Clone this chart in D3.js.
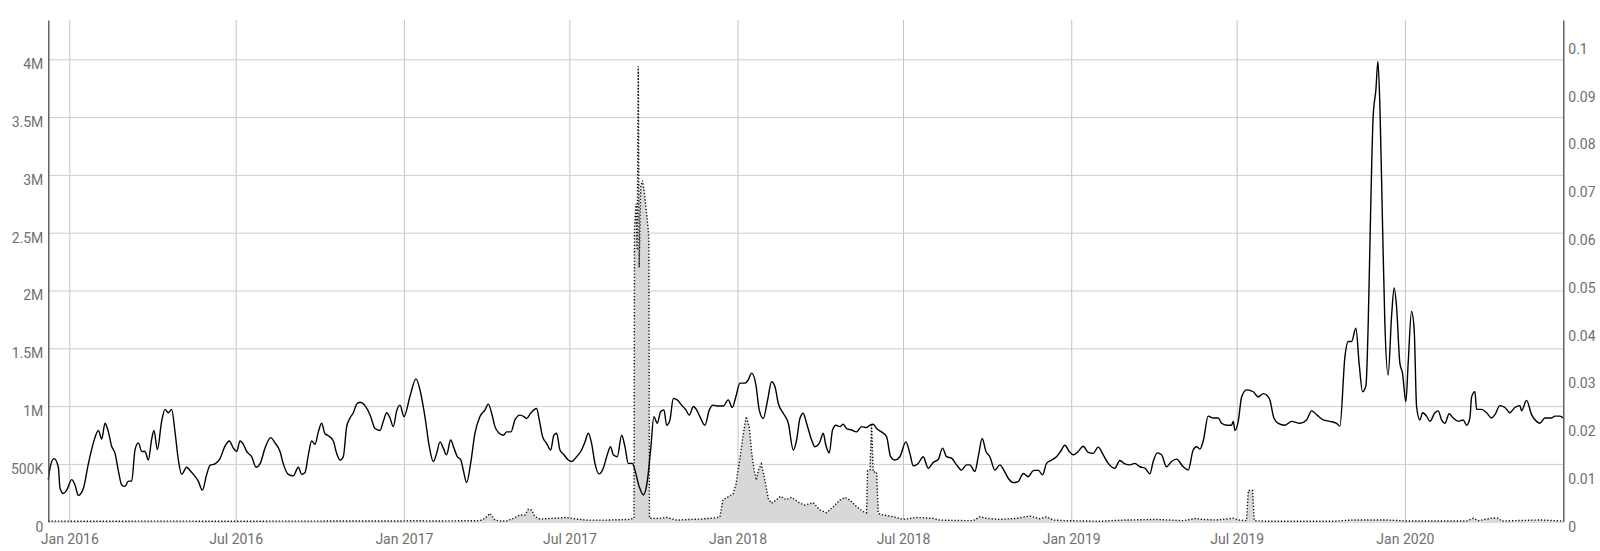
<!DOCTYPE html>
<html lang="en">
<head>
<meta charset="utf-8">
<title>Dual axis chart</title>
<script src="https://cdn.jsdelivr.net/npm/d3@7"></script>
<style>
  body { margin: 0; background: #fff; }
  svg text { font-family: Roboto, "Noto Sans", sans-serif; }
</style>
</head>
<body>
<svg id="chart" width="1600" height="551"></svg>
<script>
// days counted from 2016-01-01 (UTC)
var dayZero = Date.UTC(2016, 0, 1);
var xDomainDays = [-23, 1634.3];

var xTickDates = ["2016-01-01", "2016-07-01", "2017-01-01", "2017-07-01", "2018-01-01",
                  "2018-07-01", "2019-01-01", "2019-07-01", "2020-01-01"];
var xTickLabels = ["Jan 2016", "Jul 2016", "Jan 2017", "Jul 2017", "Jan 2018",
                   "Jul 2018", "Jan 2019", "Jul 2019", "Jan 2020"];

// left axis, millions
var leftTicks = [0, 0.5, 1, 1.5, 2, 2.5, 3, 3.5, 4];
var leftTickLabels = ["0", "500K", "1M", "1.5M", "2M", "2.5M", "3M", "3.5M", "4M"];
var leftMax = 4.34;

// right axis
var rightTicks = [0, 0.01, 0.02, 0.03, 0.04, 0.05, 0.06, 0.07, 0.08, 0.09, 0.1];
var rightTickLabels = ["0", "0.01", "0.02", "0.03", "0.04", "0.05", "0.06", "0.07", "0.08", "0.09", "0.1"];
var rightMax = 0.105;

// solid line (right axis)
var lineDays = [
  -23, -21, -16.7, -12, -10.2, -6.5, -2.9, 2.6, 6.2, 9.9, 15.4, 20.8, 26.3, 31.8, 35.4, 39.1, 42.7, 46.3, 50, 53.6,
  57.3, 60.9, 64.6, 68.2, 71.9, 75.5, 79.2, 82.8, 86.4, 90.1, 92.6, 96.3, 101, 104.7, 108.3, 112, 115.6, 119.3, 122.9, 128.4,
  132, 135.7, 141.1, 145.5, 150.3, 153.9, 159.4, 164.8, 170.3, 175, 179.4, 183.1, 186.7, 190.4, 194, 199.5, 204.2, 208.6, 214.1, 220.3,
  225, 230.5, 234.1, 239.6, 245, 250.5, 254.2, 257.8, 261.5, 265.1, 268.8, 272.4, 276, 279.7, 283.3, 288.8, 292.4, 296.1, 299.7, 303.4,
  307, 310.7, 314.3, 318, 323.4, 328.9, 334.4, 339.8, 343.5, 347.1, 350.8, 354.4, 358.1,
  361.7, 366.1, 372.6, 379.2, 383.6, 389, 393.8, 398.2, 401.8, 405.5, 409.1, 412.7, 417.1, 420.8, 424.4, 428.1, 431, 434.6, 439, 443.7,
  449.2, 454.7, 458.3, 462, 465.6, 470.3, 474.7, 478.4, 483.1, 487.5, 493, 497.3, 500.2, 504.6, 511.2, 514.1, 517.7, 522.1, 526.5, 530.1,
  533.1, 536.7, 541.1, 545.8, 549.5, 554.9, 560.4, 564.1, 567.7, 571.3, 575, 579.4, 584.1, 587.8, 592.1, 595, 599.4, 604.2, 607.8, 611.5,
  615.8, 618.7, 623.5, 627.9, 632.2, 635.9, 639.5, 643.2, 646.8, 650.5, 653.4, 657, 660.7, 665, 669.8, 674.5, 678.2, 682.6, 686.2, 689.8,
  695.3, 700.1, 704.4, 709.9, 715.4, 720.8, 725.2, 729.2, 733.6, 739.1, 742.7, 746.4, 751.1, 754.7, 759.1, 763.9, 768.2, 771.9, 775.5, 781,
  786.5, 792, 795.6,
  799.2, 802.8, 806.5, 812, 815.6, 821.1, 824.7, 827.6, 831.3, 834.9, 838.6, 842.9, 846.6, 850.2, 855.7, 861.2, 866.7, 872.1, 875.8, 879.4,
  883.1, 888.5, 894, 898.4, 903.1, 908.6, 915.1, 919.5, 923.2, 928.6, 934.1, 939.6, 945, 950.5, 955.3, 959.6, 965.1, 970.6, 976, 981.5,
  985.1, 990.6, 994.3, 998.6, 1002.7, 1007, 1012.5, 1018, 1022.3, 1027.1, 1032.5, 1038, 1043.5, 1049, 1054.4, 1059.9, 1064.6, 1069, 1074.5, 1079.9,
  1084.3, 1089.1, 1093.8, 1098.2, 1103.6, 1109.1, 1114.6, 1120, 1125.5, 1131, 1136.5, 1143.7, 1149.2, 1154.7, 1160.2, 1165.6, 1171.1, 1176.6, 1182, 1185.7,
  1190.1, 1194.8, 1200.3, 1205.7, 1211.2, 1218.5, 1224, 1229.4, 1233.1,
  1236.8, 1240.4, 1245.9, 1251.4, 1256.9, 1260.5, 1266, 1271.4, 1273.3, 1275.1, 1278.7, 1282.4, 1287.8, 1295.1, 1300.6, 1306.1, 1309.7, 1313.4, 1317.7, 1322.5,
  1329.8, 1337.1, 1346.2, 1353.5, 1358.9, 1364.4, 1371.7, 1379, 1386.3, 1389.9,
  1395.4, 1399, 1402.7, 1407.4, 1411, 1414.7, 1418.4, 1420.9, 1423.5, 1426.3, 1429.3, 1431.5, 1433.7, 1436.6, 1439.1, 1442.7, 1446.4, 1449.3, 1451.9, 1455.5,
  1458.4, 1462.1, 1464.6, 1468.3, 1471.2, 1473.8, 1477.4,
  1480.4, 1484.7, 1488.4, 1493.8, 1497.5, 1501.1, 1504.8, 1509.5, 1513.9, 1519.4, 1524.8, 1528.5, 1532.1, 1534, 1537.6, 1539.4, 1544.9, 1550.4, 1555.8, 1559.5,
  1565, 1570.4, 1575.9, 1581.3, 1586.8, 1588.6, 1594.1, 1599.6, 1605, 1608.7, 1614.2, 1621.5, 1625.1, 1630.6, 1634.2
];
var lineValues = [
  0.0088, 0.0114, 0.0132, 0.0114, 0.0070, 0.0059, 0.0066, 0.0088, 0.0077, 0.0055, 0.0070, 0.0121, 0.0165, 0.0191, 0.0173, 0.0206, 0.0188, 0.0158, 0.0143, 0.0107,
  0.0077, 0.0074, 0.0085, 0.0085, 0.0151, 0.0165, 0.0147, 0.0147, 0.0129, 0.0173, 0.0191, 0.0151, 0.0210, 0.0235, 0.0228, 0.0235, 0.0188, 0.0129, 0.0099, 0.0114,
  0.0107, 0.0099, 0.0085, 0.0066, 0.0099, 0.0118, 0.0121, 0.0132, 0.0158, 0.0169, 0.0154, 0.0147, 0.0169, 0.0162, 0.0147, 0.0136, 0.0114, 0.0121, 0.0154, 0.0176,
  0.0165, 0.0147, 0.0121, 0.0099, 0.0096, 0.0114, 0.0099, 0.0103, 0.0140, 0.0169, 0.0162, 0.0188, 0.0206, 0.0184, 0.0180, 0.0169, 0.0143, 0.0129, 0.0136, 0.0199,
  0.0217, 0.0228, 0.0246, 0.0250, 0.0243, 0.0224, 0.0195, 0.0191, 0.0210, 0.0228, 0.0217, 0.0199, 0.0232,
  0.0244, 0.0220, 0.0262, 0.0299, 0.0276, 0.0220, 0.0157, 0.0126, 0.0143, 0.0167, 0.0154, 0.0140, 0.0171, 0.0154, 0.0136, 0.0130, 0.0108, 0.0082, 0.0122, 0.0185,
  0.0220, 0.0234, 0.0246, 0.0227, 0.0199, 0.0185, 0.0181, 0.0188, 0.0188, 0.0213, 0.0223, 0.0220, 0.0216, 0.0227, 0.0237, 0.0213, 0.0178, 0.0164, 0.0150, 0.0181,
  0.0185, 0.0150, 0.0140, 0.0129, 0.0126, 0.0136, 0.0150, 0.0167, 0.0185, 0.0164, 0.0122, 0.0100, 0.0112, 0.0136, 0.0157, 0.0140, 0.0136, 0.0181, 0.0157, 0.0122,
  0.0122, 0.0108, 0.0073, 0.0056, 0.0084, 0.0150, 0.0220, 0.0206, 0.0230, 0.0234, 0.0202, 0.0213, 0.0258, 0.0255, 0.0244, 0.0234, 0.0223, 0.0241, 0.0234, 0.0220,
  0.0202, 0.0234, 0.0244, 0.0242, 0.0242, 0.0255, 0.0239, 0.0262, 0.0290, 0.0290, 0.0297, 0.0311, 0.0286, 0.0234, 0.0216, 0.0255, 0.0293, 0.0283, 0.0248, 0.0227,
  0.0206, 0.0150, 0.0171,
  0.0216, 0.0227, 0.0206, 0.0171, 0.0157, 0.0167, 0.0185, 0.0160, 0.0144, 0.0192, 0.0202, 0.0199, 0.0204, 0.0195, 0.0192, 0.0188, 0.0199, 0.0197, 0.0202, 0.0204,
  0.0195, 0.0188, 0.0178, 0.0136, 0.0129, 0.0136, 0.0167, 0.0143, 0.0117, 0.0122, 0.0136, 0.0112, 0.0124, 0.0130, 0.0154, 0.0136, 0.0133, 0.0119, 0.0108, 0.0119,
  0.0119, 0.0105, 0.0136, 0.0174, 0.0147, 0.0136, 0.0108, 0.0119, 0.0108, 0.0091, 0.0082, 0.0084, 0.0101, 0.0094, 0.0107, 0.0108, 0.0098, 0.0122, 0.0129, 0.0136,
  0.0147, 0.0160, 0.0147, 0.0140, 0.0147, 0.0158, 0.0145, 0.0143, 0.0156, 0.0140, 0.0122, 0.0112, 0.0128, 0.0121, 0.0119, 0.0122, 0.0115, 0.0112, 0.0100, 0.0126,
  0.0144, 0.0140, 0.0115, 0.0126, 0.0131, 0.0115, 0.0108, 0.0150, 0.0157,
  0.0152, 0.0169, 0.0221, 0.0217, 0.0217, 0.0206, 0.0202, 0.0202, 0.0210, 0.0191, 0.0210, 0.0261, 0.0276, 0.0272, 0.0261, 0.0268, 0.0265, 0.0254, 0.0217, 0.0206,
  0.0202, 0.0210, 0.0206, 0.0213, 0.0232, 0.0224, 0.0213, 0.0210, 0.0206, 0.0200,
  0.0345, 0.0377, 0.0377, 0.0405, 0.0330, 0.0272, 0.0285, 0.0416, 0.0646, 0.0848, 0.0904, 0.0963, 0.0869, 0.0618, 0.0416, 0.0307, 0.0429, 0.0489, 0.0450, 0.0332,
  0.0311, 0.0251, 0.0332, 0.0440, 0.0401, 0.0241, 0.0213,
  0.0228, 0.0221, 0.0210, 0.0228, 0.0232, 0.0213, 0.0206, 0.0226, 0.0217, 0.0210, 0.0213, 0.0202, 0.0217, 0.0261, 0.0272, 0.0235, 0.0235, 0.0228, 0.0217, 0.0224,
  0.0243, 0.0239, 0.0228, 0.0239, 0.0243, 0.0232, 0.0254, 0.0224, 0.0210, 0.0206, 0.0217, 0.0217, 0.0221, 0.0221, 0.0217
];

// dotted area (left axis, millions)
var areaDays = [
  -23, 30, 100, 180, 250, 320, 361.7, 376.3, 398.2, 449.2, 454.7, 460.1, 465.6, 471.1, 478.4, 485.7, 493, 498.4, 502.1, 505.7,
  509.4, 514.8, 544, 551.3, 565.9, 587.8, 613.3, 616.9,
  617.7, 618.3, 620, 621.2, 622.4, 623.4, 625, 627, 629, 631, 633, 634, 634.6,
  640, 646.1, 653.4, 664.3, 689.8, 704, 711.7, 715, 722, 726, 729.2, 733.6, 737.3, 740.5, 743.8, 746.4, 749, 751.5, 754, 757,
  760.9, 764.6, 768, 772, 778, 784, 790, 795.6, 799.2,
  804.7, 813.8, 821.1, 828.4, 835.7, 842.9, 848.4, 853.9, 861.2, 868.5, 872.1, 873.2, 875.8, 877.6, 879.4, 883.1, 884.9, 890.4, 901.3, 912.2,
  926.8, 945, 952.3, 981.5, 988.8, 996.1, 1003.4, 1018, 1036.2, 1050.8, 1061.7, 1069, 1076.3, 1090.9, 1127.3, 1152.9, 1189.3, 1218.5, 1233.1,
  1236.8, 1255, 1273.3, 1278.7, 1287.8, 1289.7, 1294.4, 1296.2, 1309.7, 1382.6, 1404.5, 1441, 1462.9, 1528.5, 1535.8, 1541.2, 1557.6, 1563.1, 1566.8, 1608.7,
  1634.2
];
var areaValues = [
  0.005, 0.004, 0.005, 0.004, 0.005, 0.006, 0.006, 0.009, 0.006, 0.009, 0.029, 0.072, 0.014, 0.006, 0.006, 0.029, 0.058, 0.058, 0.107, 0.101,
  0.043, 0.023, 0.037, 0.026, 0.014, 0.014, 0.020, 0.029,
  0.03, 2.55, 2.75, 2.35, 3.94, 2.2, 2.9, 2.95, 2.85, 2.7, 2.55, 2.45, 0.03,
  0.029, 0.029, 0.037, 0.014, 0.023, 0.03, 0.04, 0.19, 0.22, 0.24, 0.32, 0.55, 0.76, 0.91, 0.82, 0.6, 0.45, 0.36, 0.45, 0.5,
  0.36, 0.2, 0.16, 0.18, 0.22, 0.19, 0.21, 0.18, 0.16,
  0.144, 0.164, 0.101, 0.078, 0.13, 0.187, 0.21, 0.187, 0.13, 0.087, 0.078, 0.44, 0.447, 0.85, 0.43, 0.43, 0.072, 0.058, 0.043, 0.02,
  0.037, 0.029, 0.014, 0.009, 0.009, 0.043, 0.029, 0.02, 0.029, 0.049, 0.026, 0.043, 0.014, 0.009, 0.004, 0.014, 0.02, 0.009, 0.029,
  0.021, 0.015, 0.03, 0.015, 0.009, 0.27, 0.27, 0.009, 0.004, 0.004, 0.015, 0.015, 0.006, 0.006, 0.03, 0.009, 0.033, 0.03, 0.006, 0.015,
  0.006
];

var box = {left: 48.3, right: 1563.3, top: 20, bottom: 521.7};

var toDate = function(d) { return new Date(dayZero + d * 864e5); };

var svg = d3.select("#chart");

var x = d3.scaleUtc()
    .domain(xDomainDays.map(toDate))
    .range([box.left, box.right]);
var yL = d3.scaleLinear().domain([0, leftMax]).range([box.bottom, box.top]);
var yR = d3.scaleLinear().domain([0, rightMax]).range([box.bottom, box.top]);

var xTicks = xTickDates.map(function(s) { return new Date(s + "T00:00:00Z"); });

var lineData = lineDays.map(function(d, i) { return {date: toDate(d), v: lineValues[i]}; });
var areaData = areaDays.map(function(d, i) { return {date: toDate(d), v: areaValues[i]}; });

// vertical grid
svg.append("g")
    .attr("transform", "translate(0," + box.bottom + ")")
    .call(d3.axisBottom(x).tickValues(xTicks).tickSize(-(box.bottom - box.top)).tickFormat(""))
    .call(function(g) { g.select(".domain").remove(); })
    .call(function(g) { g.selectAll("line").attr("stroke", "#c4c4c4"); });

// horizontal grid
svg.append("g")
    .attr("transform", "translate(" + box.left + ",0)")
    .call(d3.axisLeft(yL).tickValues(leftTicks).tickSize(-(box.right - box.left)).tickFormat(""))
    .call(function(g) { g.select(".domain").remove(); })
    .call(function(g) { g.selectAll("line").attr("stroke", "#cdcdcd"); });

// area + dotted edge
svg.append("path")
    .datum(areaData)
    .attr("fill", "#d8d8d8")
    .attr("d", d3.area()
        .x(function(d) { return x(d.date); })
        .y0(yL(0))
        .y1(function(d) { return yL(d.v); }));

svg.append("path")
    .datum(areaData)
    .attr("fill", "none")
    .attr("stroke", "#111")
    .attr("stroke-width", 1.4)
    .attr("stroke-dasharray", "1.3,1.9")
    .attr("d", d3.line()
        .x(function(d) { return x(d.date); })
        .y(function(d) { return yL(d.v); }));

// solid line
svg.append("path")
    .datum(lineData)
    .attr("fill", "none")
    .attr("stroke", "#000")
    .attr("stroke-width", 1.4)
    .attr("stroke-linejoin", "round")
    .attr("d", d3.line()
        .curve(d3.curveMonotoneX)
        .x(function(d) { return x(d.date); })
        .y(function(d) { return yR(d.v); }));

// axes
var labelColor = "#6f6f6f";

var gl = svg.append("g")
    .attr("transform", "translate(" + box.left + ",0)")
    .call(d3.axisLeft(yL).tickValues(leftTicks).tickSize(0).tickSizeOuter(0).tickPadding(5)
        .tickFormat(function(d, i) { return leftTickLabels[i]; }));
gl.select(".domain").attr("stroke", "#4a4a4a").attr("stroke-width", 1.3);
gl.selectAll("text").attr("y", 5).attr("fill", labelColor).attr("font-size", 14);

var gr = svg.append("g")
    .attr("transform", "translate(" + box.right + ",0)")
    .call(d3.axisRight(yR).tickValues(rightTicks).tickSize(0).tickSizeOuter(0).tickPadding(5)
        .tickFormat(function(d, i) { return rightTickLabels[i]; }));
gr.select(".domain").attr("stroke", "#4a4a4a").attr("stroke-width", 1.3);
gr.selectAll("text").attr("y", 5).attr("fill", labelColor).attr("font-size", 14);

var gb = svg.append("g")
    .attr("transform", "translate(0," + box.bottom + ")")
    .call(d3.axisBottom(x).tickValues(xTicks).tickSize(0).tickPadding(12)
        .tickFormat(function(d, i) { return xTickLabels[i]; }));
gb.select(".domain").remove();
gb.selectAll("text").attr("fill", labelColor).attr("font-size", 14);
</script>
</body>
</html>
